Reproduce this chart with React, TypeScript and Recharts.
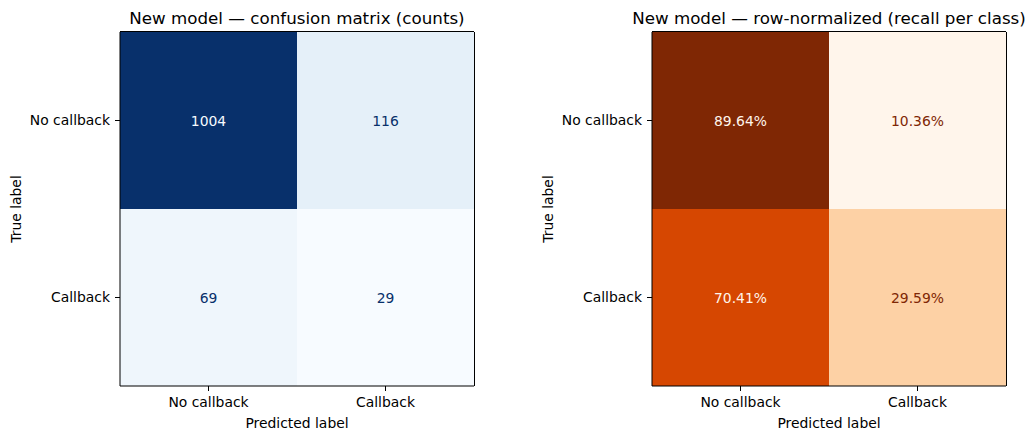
import { Bar, BarChart, CartesianGrid, Cell, LabelList, XAxis, YAxis } from "recharts";

const trueLabels = ["No callback", "Callback"];
const predictedLabels = ["No callback", "Callback"];

// counts, one array per predicted column (rows follow trueLabels)
const predNoCallbackCounts = [1004, 69];
const predCallbackCounts = [116, 29];

// row-normalized recall, %
const predNoCallbackPct = [89.64, 70.41];
const predCallbackPct = [10.36, 29.59];

const BLUES = ["#f7fbff", "#deebf7", "#c6dbef", "#9ecae1", "#6baed6", "#4292c6", "#2171b5", "#08519c", "#08306b"];
const ORANGES = ["#fff5eb", "#fee6ce", "#fdd0a2", "#fdae6b", "#fd8d3c", "#f16913", "#d94801", "#a63603", "#7f2704"];

const FONT = "'DejaVu Sans', sans-serif";
const FS = 13.9;

function hexToRgb(h: string) {
  const n = parseInt(h.slice(1), 16);
  return [(n >> 16) & 255, (n >> 8) & 255, n & 255];
}

// linear colormap lookup like matplotlib's LinearSegmentedColormap
function cmap(stops: string[], t: number) {
  const tt = Math.max(0, Math.min(1, t)) * (stops.length - 1);
  const i = Math.min(Math.floor(tt), stops.length - 2);
  const f = tt - i;
  const a = hexToRgb(stops[i]);
  const b = hexToRgb(stops[i + 1]);
  const c = a.map((v, k) => Math.round(v + (b[k] - v) * f));
  return `rgb(${c[0]},${c[1]},${c[2]})`;
}

function MatrixPanel({
  title,
  left,
  col0,
  col1,
  stops,
  format,
}: {
  title: string;
  left: number;
  col0: number[];
  col1: number[];
  stops: string[];
  format: (v: number) => string;
}) {
  const all = [...col0, ...col1];
  const vmin = Math.min(...all);
  const vmax = Math.max(...all);
  const norm = (v: number) => (v - vmin) / (vmax - vmin);
  const thresh = (vmin + vmax) / 2;

  const rows = trueLabels.map((label, i) => ({ label, a: 1, b: 1, v0: col0[i], v1: col1[i] }));

  const renderValue = (props: any) => {
    const { x, y, width, height, value } = props;
    const color = value < thresh ? stops[stops.length - 1] : stops[0];
    return (
      <text
        x={Number(x) + Number(width) / 2}
        y={Number(y) + Number(height) / 2}
        textAnchor="middle"
        dominantBaseline="central"
        fill={color}
        fontSize={FS}
        fontFamily={FONT}
      >
        {format(value)}
      </text>
    );
  };

  const axisTick = { fill: "#000", fontSize: FS };

  return (
    <div style={{ position: "absolute", left, top: 0, width: 480, height: 440 }}>
      <div
        style={{
          position: "absolute",
          left: 20,
          width: 554,
          top: 8,
          textAlign: "center",
          fontSize: 16.7,
          lineHeight: "20px",
          whiteSpace: "nowrap",
          color: "#000",
        }}
      >
        {title}
      </div>
      <BarChart
        width={480}
        height={440}
        data={rows}
        layout="vertical"
        barCategoryGap={0}
        margin={{ top: 32, right: 6, bottom: 4, left: 11 }}
      >
        {/* spines: top and right edges of the frame */}
        <CartesianGrid
          stroke="#000"
          horizontalCoordinatesGenerator={({ offset }: any) => [offset.top - 0.5]}
          verticalCoordinatesGenerator={({ offset }: any) => [offset.left + offset.width + 0.5]}
        />
        <XAxis
          type="number"
          domain={[0, 2]}
          ticks={[0.5, 1.5]}
          tickFormatter={(v: number) => predictedLabels[Math.floor(v)]}
          height={50}
          tickSize={5}
          tickMargin={6}
          stroke="#000"
          tick={axisTick}
          label={{ value: "Predicted label", position: "insideBottom", offset: 8, fill: "#000", fontSize: FS }}
        />
        <YAxis
          type="category"
          dataKey="label"
          width={109}
          tickSize={5}
          tickMargin={5}
          stroke="#000"
          tick={axisTick}
          label={{
            value: "True label",
            angle: -90,
            position: "insideLeft",
            offset: 5,
            fill: "#000",
            fontSize: FS,
            style: { textAnchor: "middle" },
          }}
        />
        <Bar dataKey="a" stackId="m" isAnimationActive={false}>
          {rows.map((r, i) => (
            <Cell key={i} fill={cmap(stops, norm(r.v0))} />
          ))}
          <LabelList dataKey="v0" content={renderValue} />
        </Bar>
        <Bar dataKey="b" stackId="m" isAnimationActive={false}>
          {rows.map((r, i) => (
            <Cell key={i} fill={cmap(stops, norm(r.v1))} />
          ))}
          <LabelList dataKey="v1" content={renderValue} />
        </Bar>
      </BarChart>
    </div>
  );
}

export default function App() {
  return (
    <div
      style={{
        position: "absolute",
        left: 0,
        top: 0,
        width: 1035,
        height: 440,
        background: "#fff",
        fontFamily: FONT,
      }}
    >
      <MatrixPanel
        title="New model — confusion matrix (counts)"
        left={0}
        col0={predNoCallbackCounts}
        col1={predCallbackCounts}
        stops={BLUES}
        format={(v) => String(v)}
      />
      <MatrixPanel
        title="New model — row-normalized (recall per class)"
        left={532}
        col0={predNoCallbackPct}
        col1={predCallbackPct}
        stops={ORANGES}
        format={(v) => `${v.toFixed(2)}%`}
      />
    </div>
  );
}
